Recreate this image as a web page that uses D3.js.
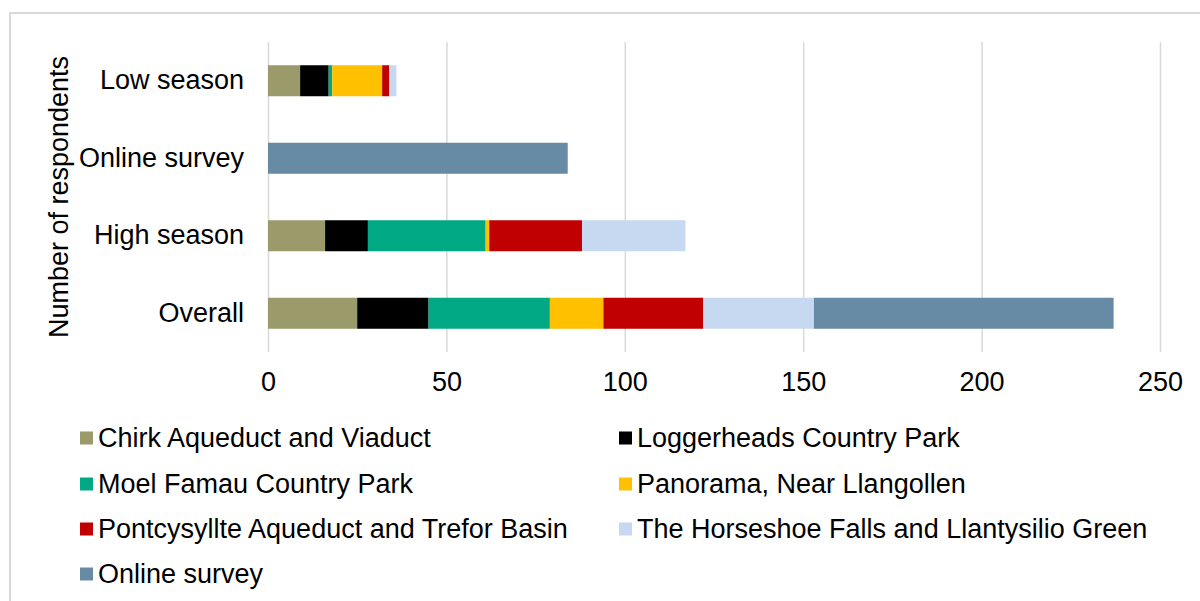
<!DOCTYPE html>
<html>
<head>
<meta charset="utf-8">
<script src="https://cdn.jsdelivr.net/npm/d3@7"></script>
<style>
  html, body { margin: 0; padding: 0; background: #fff; }
  svg { display: block; font-family: "Liberation Sans", Arial, sans-serif; }
</style>
</head>
<body>
<div id="chart"></div>
<script>
// categories top to bottom
const categories = ["Low season", "Online survey", "High season", "Overall"];

// series values, one per category (same order as categories)
const chirk = [9, 0, 16, 25];
const loggerheads = [8, 0, 12, 20];
const moelFamau = [1, 0, 33, 34];
const panorama = [14, 0, 1, 15];
const pontcysyllte = [2, 0, 26, 28];
const horseshoe = [2, 0, 29, 31];
const onlineSurvey = [0, 84, 0, 84];

const seriesNames = [
  "Chirk Aqueduct and Viaduct",
  "Loggerheads Country Park",
  "Moel Famau Country Park",
  "Panorama, Near Llangollen",
  "Pontcysyllte Aqueduct and Trefor Basin",
  "The Horseshoe Falls and Llantysilio Green",
  "Online survey"
];
const seriesValues = [chirk, loggerheads, moelFamau, panorama, pontcysyllte, horseshoe, onlineSurvey];
const colors = ["#9a9a6b", "#000000", "#00a884", "#ffc000", "#c00000", "#c6d9f0", "#678ba4"];

const xTicks = [0, 50, 100, 150, 200, 250];
const yTitle = "Number of respondents";

const W = 1200, H = 601;
const plot = { left: 268, right: 1160, top: 42, bottom: 352 };
const fontSize = "27px";

const svg = d3.select("#chart").append("svg")
  .attr("width", W)
  .attr("height", H);

// outer chart frame (runs off the right and bottom of the picture)
svg.append("rect")
  .attr("x", 10).attr("y", 13)
  .attr("width", 1300).attr("height", 700)
  .attr("fill", "#fff")
  .attr("stroke", "#d9d9d9")
  .attr("stroke-width", 2);

const x = d3.scaleLinear().domain([0, 250]).range([plot.left, plot.right]);
const y = d3.scaleBand().domain(categories).range([plot.top, plot.bottom])
  .paddingInner(0.6).paddingOuter(0.3);

// gridlines
const grid = svg.append("g")
  .attr("transform", `translate(0,${plot.bottom})`)
  .call(d3.axisBottom(x).tickValues(xTicks).tickSize(-(plot.bottom - plot.top)).tickFormat(""));
grid.select(".domain").remove();
grid.selectAll("line").attr("stroke", "#d9d9d9").attr("stroke-width", 1.5);

// x tick labels
const xAxis = svg.append("g")
  .attr("transform", `translate(0,${plot.bottom})`)
  .call(d3.axisBottom(x).tickValues(xTicks).tickSize(0).tickPadding(20));
xAxis.select(".domain").remove();
xAxis.selectAll("text")
  .attr("font-size", fontSize)
  .attr("font-family", "'Liberation Sans', Arial, sans-serif")
  .attr("fill", "#000");

// stacked bars
const rows = categories.map((c, i) => {
  const r = { category: c };
  seriesNames.forEach((s, j) => { r[s] = seriesValues[j][i]; });
  return r;
});
const stacked = d3.stack().keys(seriesNames)(rows);

svg.append("g").selectAll("g")
  .data(stacked)
  .join("g")
  .attr("fill", (d, i) => colors[i])
  .selectAll("rect")
  .data(d => d.filter(p => p[1] - p[0] > 0))
  .join("rect")
  .attr("x", d => x(d[0]))
  .attr("y", d => y(d.data.category))
  .attr("width", d => x(d[1]) - x(d[0]))
  .attr("height", y.bandwidth());

// category labels
const yAxis = svg.append("g")
  .attr("transform", `translate(${plot.left},0)`)
  .call(d3.axisLeft(y).tickSize(0).tickPadding(24));
yAxis.select(".domain").remove();
yAxis.selectAll("text")
  .attr("font-size", fontSize)
  .attr("font-family", "'Liberation Sans', Arial, sans-serif")
  .attr("fill", "#000");

// y axis title
svg.append("text")
  .attr("transform", `translate(68,${(plot.top + plot.bottom) / 2}) rotate(-90)`)
  .attr("text-anchor", "middle")
  .attr("font-size", fontSize)
  .attr("fill", "#000")
  .text(yTitle);

// legend, two columns
const legendCols = [80, 619];
const legendRows = [438, 484, 529, 574];
const legend = svg.append("g").selectAll("g")
  .data(seriesNames)
  .join("g")
  .attr("transform", (d, i) => `translate(${legendCols[i % 2]},${legendRows[Math.floor(i / 2)]})`);

legend.append("rect")
  .attr("x", 0).attr("y", -6.5)
  .attr("width", 13).attr("height", 13)
  .attr("fill", (d, i) => colors[i]);

legend.append("text")
  .attr("x", 18)
  .attr("dy", "0.35em")
  .attr("font-size", fontSize)
  .attr("fill", "#000")
  .text(d => d);
</script>
</body>
</html>
